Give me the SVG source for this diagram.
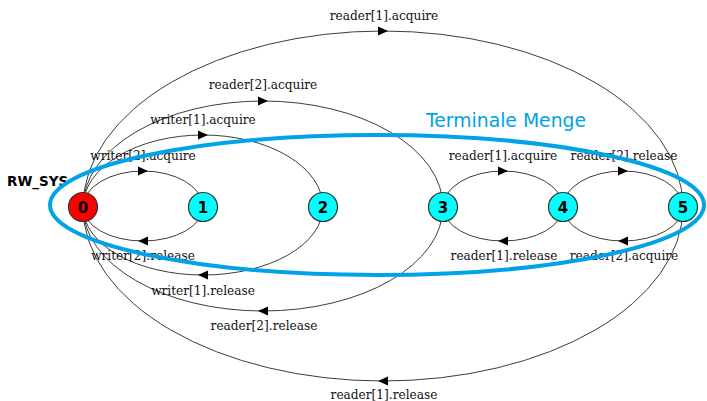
<svg xmlns="http://www.w3.org/2000/svg" width="707" height="401" viewBox="0 0 707 401">
<style>
.e{fill:none;stroke:#3c3c3c;stroke-width:1;marker-mid:url(#ah)}
.lbl{font-family:"DejaVu Serif Condensed","DejaVu Serif",serif;font-stretch:condensed;font-size:13.5px;fill:#111;text-anchor:middle}
.node circle{stroke:#333;stroke-width:1.2}
.node text{font-family:"DejaVu Sans",sans-serif;font-weight:bold;font-size:15px;fill:#000;text-anchor:middle}
.init{fill:#ff0000}
.st{fill:#00ffff}
.term{fill:none;stroke:#00a2e8;stroke-width:4}
</style>
<defs>
<marker id="ah" markerUnits="userSpaceOnUse" markerWidth="12" markerHeight="12" viewBox="-6 -6 12 12" refX="0" refY="0" orient="auto">
<path d="M-5,-4.5 L5,0 L-5,4.5 z" fill="#000"/>
</marker>
</defs>
<rect width="707" height="401" fill="#fff"/>
<g id="connectors">
<path class="e" d="M83,207 A60,36 0 0 1 143,171 A60,36 0 0 1 203,207"/>
<path class="e" d="M203,207 A60,34 0 0 1 143,241 A60,34 0 0 1 83,207"/>
<path class="e" d="M83,207 A120,72 0 0 1 203,135 A120,72 0 0 1 323,207"/>
<path class="e" d="M323,207 A120,68 0 0 1 203,275 A120,68 0 0 1 83,207"/>
<path class="e" d="M83,207 A180,106 0 0 1 263,101 A180,106 0 0 1 443,207"/>
<path class="e" d="M443,207 A180,104 0 0 1 263,311 A180,104 0 0 1 83,207"/>
<path class="e" d="M83,207 A300,176 0 0 1 383,31 A300,176 0 0 1 683,207"/>
<path class="e" d="M683,207 A300,174 0 0 1 383,381 A300,174 0 0 1 83,207"/>
<path class="e" d="M443,207 A60,36 0 0 1 503,171 A60,36 0 0 1 563,207"/>
<path class="e" d="M563,207 A60,34 0 0 1 503,241 A60,34 0 0 1 443,207"/>
<path class="e" d="M563,207 A60,36 0 0 1 623,171 A60,36 0 0 1 683,207"/>
<path class="e" d="M683,207 A60,34 0 0 1 623,241 A60,34 0 0 1 563,207"/>
</g>
<g id="labels">
<text class="lbl" x="384" y="20">reader[1].acquire</text>
<text class="lbl" x="263" y="89">reader[2].acquire</text>
<text class="lbl" x="203" y="124">writer[1].acquire</text>
<text class="lbl" x="143" y="160">writer[2].acquire</text>
<text class="lbl" x="503" y="160">reader[1].acquire</text>
<text class="lbl" x="624" y="160">reader[2].release</text>
<text class="lbl" x="143" y="260">writer[2].release</text>
<text class="lbl" x="504" y="260">reader[1].release</text>
<text class="lbl" x="624" y="260">reader[2].acquire</text>
<text class="lbl" x="203" y="295">writer[1].release</text>
<text class="lbl" x="264" y="330">reader[2].release</text>
<text class="lbl" x="384" y="399">reader[1].release</text>
</g>
<g id="n0" class="node"><circle class="init" cx="83" cy="207" r="14.5"/><text x="83" y="212.5">0</text></g>
<g id="n1" class="node"><circle class="st" cx="203" cy="207" r="14.5"/><text x="203" y="212.5">1</text></g>
<g id="n2" class="node"><circle class="st" cx="323" cy="207" r="14.5"/><text x="323" y="212.5">2</text></g>
<g id="n3" class="node"><circle class="st" cx="443" cy="207" r="14.5"/><text x="443" y="212.5">3</text></g>
<g id="n4" class="node"><circle class="st" cx="563" cy="207" r="14.5"/><text x="563" y="212.5">4</text></g>
<g id="n5" class="node"><circle class="st" cx="683" cy="207" r="14.5"/><text x="683" y="212.5">5</text></g>
<text x="7" y="186" font-family="DejaVu Sans, sans-serif" font-weight="bold" font-size="13.5" fill="#000">RW_SYS</text>
<g id="terminal-set">
<ellipse class="term" cx="377" cy="205" rx="327" ry="70"/>
<text x="426" y="127" font-family="DejaVu Sans, sans-serif" font-size="18.8" fill="#00a2e8">Terminale Menge</text>
</g>
</svg>
